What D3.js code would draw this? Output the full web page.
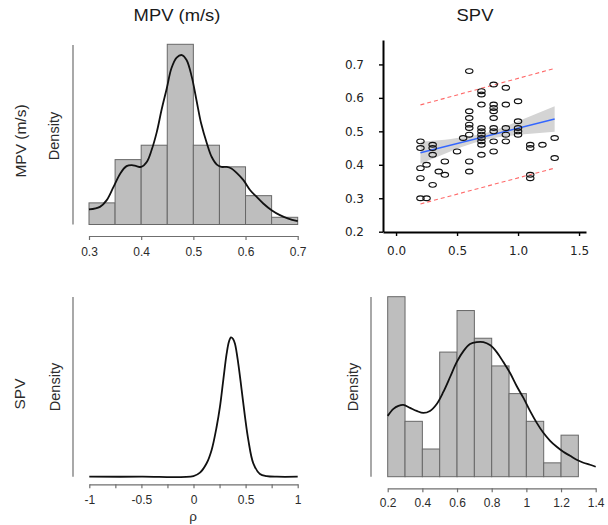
<!DOCTYPE html>
<html>
<head>
<meta charset="utf-8">
<script src="https://cdn.jsdelivr.net/npm/d3@7"></script>
<style>
  html, body { margin: 0; padding: 0; background: #fff; }
  svg { display: block; font-family: "Liberation Sans", Arial, sans-serif; }
</style>
</head>
<body>
<script>
// ---- MPV histogram (bins of 0.05) and its density curve ----
const mpvEdges  = [0.30, 0.35, 0.40, 0.45, 0.50, 0.55, 0.60, 0.65, 0.70];
const mpvCounts = [3, 9, 11, 25, 11, 8, 4, 1];
const mpvTicks  = [0.3, 0.4, 0.5, 0.6, 0.7];
const mpvDensX = [0.300,0.321,0.334,0.347,0.360,0.372,0.382,0.391,0.400,0.411,0.420,0.430,0.439,0.449,0.458,0.468,0.478,0.487,0.497,0.506,0.515,0.526,0.535,0.545,0.554,0.564,0.573,0.583,0.596,0.609,0.621,0.634,0.650,0.666,0.682,0.700];
const mpvDensY = [0.58,0.68,0.94,1.45,1.97,2.25,2.29,2.25,2.22,2.42,2.87,3.57,4.41,5.24,6.02,6.43,6.53,6.34,5.69,4.79,3.89,3.12,2.61,2.31,2.22,2.22,2.16,1.99,1.71,1.32,1.07,0.81,0.55,0.36,0.23,0.13];

// ---- SPV histogram (bins of 0.1) and its density curve ----
const spvEdges  = [0.2, 0.3, 0.4, 0.5, 0.6, 0.7, 0.8, 0.9, 1.0, 1.1, 1.2, 1.3];
const spvCounts = [13, 4, 2, 9, 12, 10, 8, 6, 4, 1, 3];
const spvTicks  = [0.2, 0.4, 0.6, 0.8, 1.0, 1.2, 1.4];
const spvTickLabels = ["0.2", "0.4", "0.6", "0.8", "1", "1.2", "1.4"];
const spvDensX = [0.200,0.233,0.262,0.290,0.329,0.367,0.406,0.444,0.483,0.521,0.560,0.598,0.637,0.675,0.713,0.752,0.790,0.829,0.867,0.906,0.944,0.983,1.021,1.060,1.098,1.137,1.175,1.213,1.252,1.290,1.329,1.367,1.400];
const spvDensY = [0.61,0.68,0.71,0.72,0.69,0.66,0.64,0.66,0.73,0.85,1.00,1.15,1.26,1.33,1.35,1.35,1.32,1.25,1.15,1.04,0.91,0.79,0.66,0.54,0.44,0.36,0.30,0.25,0.21,0.17,0.14,0.12,0.10];

// ---- posterior density of the correlation rho ----
const rhoX = [-1,-0.5,0,0.062,0.126,0.174,0.222,0.254,0.286,0.318,0.34,0.36,0.38,0.398,0.43,0.462,0.494,0.526,0.574,0.638,0.702,0.8,1];
const rhoY = [0,0,0.02,0.12,0.40,0.80,1.49,2.09,2.89,3.67,4.03,4.16,4.11,3.97,3.37,2.59,1.79,1.10,0.40,0.08,0.02,0,0];
const rhoTicks = [-1, -0.75, -0.5, -0.25, 0, 0.25, 0.5, 0.75, 1];
const rhoTickLabels = ["-1", "", "-0.5", "", "0", "", "0.5", "", "1"];

// ---- scatter: SPV (x) against MPV (y) ----
const scatterSPV = [0.2,0.2,0.2,0.2,0.2, 0.25,0.25, 0.3,0.3,0.3,0.3, 0.35, 0.4,0.4, 0.5, 0.55,
  0.6,0.6,0.6,0.6,0.6,0.6,0.6,0.6,
  0.7,0.7,0.7,0.7,0.7,0.7,0.7,0.7,0.7,0.7,
  0.8,0.8,0.8,0.8,0.8,0.8,0.8,0.8,0.8,
  0.9,0.9,0.9,0.9,0.9,
  1.0,1.0,1.0,1.0,1.0,
  1.1,1.1,1.1,1.1, 1.2, 1.3,1.3];
const scatterMPV = [0.47,0.45,0.39,0.36,0.30, 0.40,0.30, 0.46,0.45,0.43,0.34, 0.38, 0.41,0.37, 0.44, 0.48,
  0.68,0.56,0.54,0.52,0.51,0.49,0.41,0.38,
  0.62,0.61,0.58,0.51,0.50,0.49,0.48,0.47,0.46,0.43,
  0.64,0.58,0.57,0.56,0.54,0.51,0.50,0.47,0.44,
  0.63,0.58,0.51,0.49,0.47,
  0.59,0.53,0.51,0.50,0.49,
  0.46,0.45,0.37,0.36, 0.46, 0.48,0.42];
const scatterXTicks = [0.0, 0.5, 1.0, 1.5];
const scatterYTicks = [0.2, 0.3, 0.4, 0.5, 0.6, 0.7];

// regression fit, confidence band and prediction interval
const fitX = [0.2, 1.3];
const fitY = [0.436, 0.537];
const bandX  = [0.2, 0.3, 0.4, 0.5, 0.6, 0.7, 0.8, 0.9, 1.0, 1.1, 1.2, 1.3];
const bandLo = [0.403,0.418,0.433,0.448,0.461,0.472,0.480,0.485,0.490,0.493,0.496,0.499];
const bandHi = [0.469,0.472,0.475,0.480,0.485,0.492,0.502,0.515,0.530,0.545,0.560,0.575];
const predX  = [0.2, 1.3];
const predLo = [0.283, 0.390];
const predHi = [0.579, 0.688];

const W = 608, H = 525;
const svg = d3.select("body").append("svg").attr("width", W).attr("height", H);

const GRAY_AXIS = "#6f6f6f";
const TEXT = "#2b2b2b";
const SANS = "'Liberation Sans', Arial, sans-serif";

// ---------- helpers ----------
function histPanel(opt) {
  const g = svg.append("g");
  const n = d3.sum(opt.counts);
  const bw = opt.edges[1] - opt.edges[0];
  const dens = opt.counts.map(c => c / (n * bw));
  const x = d3.scaleLinear().domain(opt.xDomain).range(opt.xRange);
  const y = d3.scaleLinear().domain([0, opt.yMax]).range(opt.yRange);

  g.selectAll("rect.bar").data(dens).join("rect")
    .attr("class", "bar")
    .attr("x", (d, i) => x(opt.edges[i]))
    .attr("width", (d, i) => x(opt.edges[i + 1]) - x(opt.edges[i]))
    .attr("y", d => y(d))
    .attr("height", d => y(0) - y(d))
    .attr("fill", "#bebebe")
    .attr("stroke", "#686868")
    .attr("stroke-width", 1);

  drawCurve(g, x, y, opt.curveX, opt.curveY);
  bottomAxis(opt, x);
  return g;
}

function drawCurve(g, x, y, xs, ys) {
  const pts = xs.map((v, i) => [v, ys[i]]);
  g.append("path")
    .attr("d", d3.line().x(d => x(d[0])).y(d => y(d[1])).curve(d3.curveCatmullRom.alpha(0.5))(pts))
    .attr("fill", "none")
    .attr("stroke", "#111")
    .attr("stroke-width", 1.8);
}

function bottomAxis(opt, x) {
  const ax = d3.axisBottom(x)
    .tickValues(opt.ticks)
    .tickFormat((d, i) => opt.tickLabels ? opt.tickLabels[i] : d3.format(".1f")(d))
    .tickSize(4).tickSizeOuter(0).tickPadding(opt.pad);
  const a = svg.append("g").attr("transform", `translate(0,${opt.axisY})`).call(ax);
  a.select(".domain").attr("stroke", GRAY_AXIS).attr("stroke-width", 1.2);
  a.selectAll(".tick line").attr("stroke", GRAY_AXIS).attr("stroke-width", 1.2);
  a.selectAll(".tick text")
    .style("font-family", SANS)
    .style("font-size", "12px").attr("fill", TEXT);
  // minor ticks carry no label
  a.selectAll(".tick text").filter(function () { return this.textContent === ""; }).remove();
}

function leftLine(xPos, y0, y1) {
  svg.append("line")
    .attr("x1", xPos).attr("x2", xPos).attr("y1", y0).attr("y2", y1)
    .attr("stroke", GRAY_AXIS).attr("stroke-width", 1.2);
}

function vLabel(txt, xPos, yPos, size) {
  svg.append("text")
    .attr("transform", `translate(${xPos},${yPos}) rotate(-90)`)
    .attr("text-anchor", "middle")
    .style("font-family", SANS)
    .style("font-size", size + "px")
    .attr("fill", TEXT)
    .text(txt);
}

function title(txt, xPos, yPos) {
  svg.append("text")
    .attr("transform", `translate(${xPos},${yPos}) scale(1.15,1)`)
    .attr("text-anchor", "middle")
    .style("font-family", SANS)
    .style("font-size", "16px")
    .attr("fill", "#1a1a1a")
    .text(txt);
}

// ---------- top-left: MPV histogram ----------
histPanel({
  edges: mpvEdges, counts: mpvCounts,
  xDomain: [0.3, 0.7], xRange: [89, 297.7],
  yMax: d3.max(mpvCounts) / (d3.sum(mpvCounts) * 0.05), yRange: [224.5, 44.3],
  curveX: mpvDensX, curveY: mpvDensY,
  ticks: mpvTicks, axisY: 236, pad: 7
});
leftLine(73, 45, 224.5);

// ---------- bottom-right: SPV histogram ----------
histPanel({
  edges: spvEdges, counts: spvCounts,
  xDomain: [0.2, 1.4], xRange: [387.7, 595.7],
  yMax: d3.max(spvCounts) / (d3.sum(spvCounts) * 0.1), yRange: [476.7, 296.7],
  curveX: spvDensX, curveY: spvDensY,
  ticks: spvTicks, tickLabels: spvTickLabels, axisY: 488.3, pad: 6
});
leftLine(371, 297, 476.7);

// ---------- bottom-left: posterior of rho ----------
{
  const g = svg.append("g");
  const x = d3.scaleLinear().domain([-1, 1]).range([89.3, 297.7]);
  const y = d3.scaleLinear().domain([0, d3.max(rhoY)]).range([476.7, 337.3]);
  drawCurve(g, x, y, rhoX, rhoY);
  bottomAxis({ ticks: rhoTicks, tickLabels: rhoTickLabels, axisY: 484.3, pad: 7 }, x);
  leftLine(73, 297, 476.7);
  svg.append("text")
    .attr("x", 193).attr("y", 521)
    .attr("text-anchor", "middle")
    .style("font-family", SANS)
    .style("font-size", "13.5px")
    .attr("fill", TEXT)
    .text("ρ");
}

// ---------- top-right: scatter with regression ----------
{
  const g = svg.append("g");
  const x = d3.scaleLinear().domain([-0.107, 1.557]).range([383, 586]);
  const y = d3.scaleLinear().domain([0.2, 0.773]).range([231.7, 40]);

  // confidence band
  const band = bandX.map((v, i) => [v, bandLo[i], bandHi[i]]);
  g.append("path")
    .attr("d", d3.area().x(d => x(d[0])).y0(d => y(d[1])).y1(d => y(d[2])).curve(d3.curveMonotoneX)(band))
    .attr("fill", "#d4d4d4")
    .attr("stroke", "none");

  // prediction interval
  [predLo, predHi].forEach(arr => {
    g.append("path")
      .attr("d", d3.line().x(d => x(d[0])).y(d => y(d[1]))(predX.map((v, i) => [v, arr[i]])))
      .attr("fill", "none")
      .attr("stroke", "#ff6a6a")
      .attr("stroke-width", 1.1)
      .attr("stroke-dasharray", "4,3");
  });

  // fitted line
  g.append("path")
    .attr("d", d3.line().x(d => x(d[0])).y(d => y(d[1]))(fitX.map((v, i) => [v, fitY[i]])))
    .attr("fill", "none")
    .attr("stroke", "#3366ff")
    .attr("stroke-width", 1.4);

  // observations
  g.selectAll("ellipse.pt").data(scatterSPV).join("ellipse")
    .attr("class", "pt")
    .attr("cx", d => x(d))
    .attr("cy", (d, i) => y(scatterMPV[i]))
    .attr("rx", 3.7).attr("ry", 2.4)
    .attr("fill", "none")
    .attr("stroke", "#111")
    .attr("stroke-width", 1.15);

  const ax = d3.axisBottom(x).tickValues(scatterXTicks).tickFormat(d3.format(".1f"))
    .tickSize(4).tickSizeOuter(0).tickPadding(10);
  const ay = d3.axisLeft(y).tickValues(scatterYTicks).tickFormat(d3.format(".1f"))
    .tickSize(4).tickSizeOuter(0).tickPadding(15);
  const gx = svg.append("g").attr("transform", "translate(0,232)").call(ax);
  const gy = svg.append("g").attr("transform", "translate(383,0)").call(ay);
  [gx, gy].forEach(a => {
    a.select(".domain").attr("stroke", "#000").attr("stroke-width", 2);
    a.selectAll(".tick line").attr("stroke", "#000").attr("stroke-width", 1.4);
    a.selectAll(".tick text")
      .style("font-family", "'DejaVu Sans', sans-serif")
      .style("font-size", "12px").attr("fill", "#222");
  });
}

// ---------- titles and row labels ----------
title("MPV (m/s)", 177, 21);
title("SPV", 475, 21);
vLabel("MPV (m/s)", 26, 141, 15.5);
vLabel("Density", 58.5, 136, 14.5);
vLabel("SPV", 25, 394, 15.5);
vLabel("Density", 59.5, 387, 14.5);
vLabel("Density", 358, 387, 14.5);
</script>
</body>
</html>
